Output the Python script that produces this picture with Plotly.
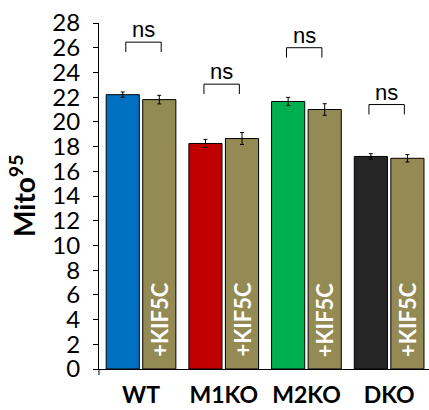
import plotly.graph_objects as go

# ---- data ----
groups = ["WT", "M1KO", "M2KO", "DKO"]
ctrl_mean = [22.2, 18.25, 21.65, 17.2]
ctrl_err = [0.22, 0.33, 0.33, 0.22]
kif_mean = [21.8, 18.65, 21.0, 17.05]
kif_err = [0.35, 0.48, 0.47, 0.30]
kif_label = "+KIF5C"
sig_labels = ["ns", "ns", "ns", "ns"]
bracket_y = [26.45, 23.05, 26.0, 21.4]
y_ticks = list(range(0, 29, 2))

# ---- styles ----
ctrl_colors = ["#0070C0", "#C00000", "#00B050", "#262626"]
olive = "#948A54"
bracket_dx = [0.03, -0.025, -0.027, -0.03]   # small horizontal nudges (axis units)
bracket_half = 0.214
leg_len = 0.8

fig = go.Figure()
fig.add_bar(
    x=groups, y=ctrl_mean,
    marker=dict(color=ctrl_colors, line=dict(color="black", width=1)),
    error_y=dict(type="data", array=ctrl_err, color="black", thickness=1, width=2),
)
fig.add_bar(
    x=groups, y=kif_mean,
    marker=dict(color=olive, line=dict(color="black", width=1)),
    error_y=dict(type="data", array=kif_err, color="black", thickness=1, width=2),
)

shapes = []
annotations = []
for i, g in enumerate(groups):
    # +KIF5C label inside the olive bar
    annotations.append(dict(
        x=g, y=0, xref="x", yref="y", text=kif_label, showarrow=False,
        textangle=-90, xanchor="center", yanchor="bottom", xshift=18.3, yshift=10,
        font=dict(family="Lato", size=22, color="white", weight="bold"),
    ))
    cx = i + bracket_dx[i]
    x0, x1 = cx - bracket_half, cx + bracket_half
    yt = bracket_y[i]
    yb = yt - leg_len
    shapes.append(dict(
        type="path", xref="x", yref="y",
        path=f"M {x0},{yb} L {x0},{yt} L {x1},{yt} L {x1},{yb}",
        line=dict(color="black", width=1),
    ))
    annotations.append(dict(
        x=cx, y=yt, xref="x", yref="y", text=sig_labels[i], showarrow=False,
        xanchor="center", yanchor="bottom", yshift=-2,
        font=dict(family="Liberation Sans", size=22, color="black"),
    ))

# y-axis title
annotations.append(dict(
    x=0, y=0.5, xref="paper", yref="paper", xshift=-77,
    text="Mito<sup>95</sup>", showarrow=False, textangle=-90,
    xanchor="center", yanchor="middle",
    font=dict(family="Lato", size=28, color="black", weight="bold"),
))

# small extension of the y axis below the baseline
shapes.append(dict(type="line", xref="paper", yref="paper", x0=0, x1=0, y0=0, y1=-6 / 346,
                   line=dict(color="black", width=1)))

fig.update_layout(
    width=429, height=410, autosize=False,
    margin=dict(l=99, r=0, t=23, b=41, pad=0),
    paper_bgcolor="white", plot_bgcolor="white",
    barmode="group", bargap=0.116, bargroupgap=0.093,
    showlegend=False,
    shapes=shapes, annotations=annotations,
    xaxis=dict(
        type="category", range=[-0.508, 3.482],
        showline=True, linecolor="black", linewidth=1,
        ticks="", showgrid=False, zeroline=False,
        tickfont=dict(family="Lato", size=23, color="black", weight="bold"),
        ticklabelstandoff=5,
    ),
    yaxis=dict(
        range=[0, 28], tickvals=y_ticks,
        showline=True, linecolor="black", linewidth=1,
        ticks="outside", ticklen=5, tickwidth=1, tickcolor="black",
        showgrid=False, zeroline=False,
        tickfont=dict(family="Lato", size=24, color="black"),
        ticklabelstandoff=8,
    ),
)

fig.write_html("out.html")
